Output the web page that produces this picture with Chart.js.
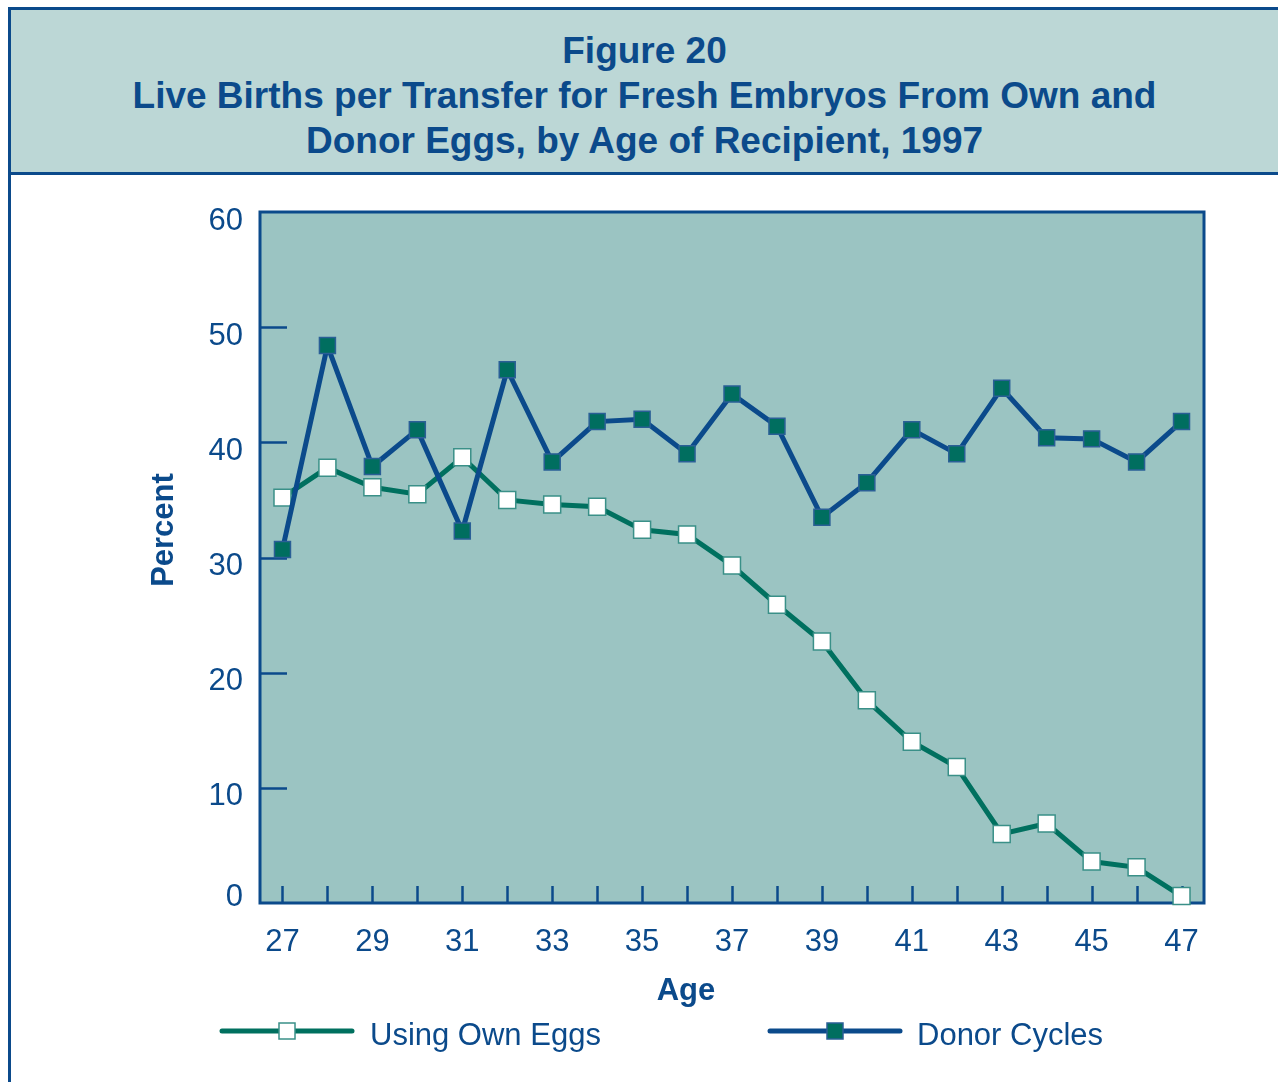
<!DOCTYPE html>
<html><head><meta charset="utf-8">
<script src="https://cdn.jsdelivr.net/npm/chart.js@4.4.1/dist/chart.umd.min.js"></script>
<style>
html,body{margin:0;padding:0;background:#fff;}
body{width:1278px;height:1082px;position:relative;overflow:hidden;font-family:"Liberation Sans",Arial,sans-serif;}
#hdr{position:absolute;left:8px;top:7px;width:1267px;height:144px;padding-top:18px;background:#bcd7d6;
 border-top:3px solid #0b4a8b;border-bottom:3px solid #0b4a8b;border-left:3px solid #0b4a8b;
 text-align:center;color:#0b4a8b;font-weight:bold;font-size:37px;line-height:45px;z-index:2;}
#vline{position:absolute;left:8px;top:7px;width:3px;height:1075px;background:#0b4a8b;z-index:3;}
#c{position:absolute;left:0;top:0;z-index:1;}
</style></head>
<body>
<div id="hdr">Figure 20<br>Live Births per Transfer for Fresh Embryos From Own and<br>Donor Eggs, by Age of Recipient, 1997</div>
<div id="vline"></div>
<canvas id="c" width="1278" height="1082"></canvas>
<script>
const ages = ['27','28','29','30','31','32','33','34','35','36','37','38','39','40','41','42','43','44','45','46','47'];
const ownEggs = [35.2,37.8,36.1,35.5,38.7,35.0,34.6,34.4,32.4,32.0,29.3,25.9,22.7,17.6,14.0,11.8,6.0,6.9,3.6,3.1,0.6];
const donorCycles = [30.7,48.4,37.9,41.1,32.3,46.3,38.3,41.8,42.0,39.0,44.2,41.4,33.5,36.5,41.1,39.0,44.7,40.4,40.3,38.3,41.8];
const yTickValues = [0,10,20,30,40,50,60];
const seriesNames = ['Using Own Eggs','Donor Cycles'];
const xTitle = 'Age';
const yTitle = 'Percent';

const BLUE = '#0b4a8b';
const GREEN = '#00705f';
const PLOT_BG = '#9bc4c2';
const FONT = "'Liberation Sans', Arial, sans-serif";

Chart.defaults.font.family = FONT;

function drawMarker(ctx, x, y, s, fill, stroke) {
  ctx.save();
  ctx.fillStyle = fill; ctx.strokeStyle = stroke; ctx.lineWidth = 1.5;
  ctx.fillRect(x - s/2, y - s/2, s, s);
  ctx.strokeRect(x - s/2, y - s/2, s, s);
  ctx.restore();
}

const decor = {
  id: 'decor',
  beforeDraw(chart) {
    const {ctx, chartArea: a} = chart;
    ctx.save();
    ctx.fillStyle = PLOT_BG;
    ctx.fillRect(a.left, a.top, a.right - a.left, a.bottom - a.top);
    ctx.restore();
  },
  beforeDatasetsDraw(chart) {
    const {ctx, chartArea: a, scales: {x, y}} = chart;
    ctx.save();
    ctx.strokeStyle = BLUE;
    ctx.lineWidth = 2.5;
    yTickValues.forEach(v => {
      if (v === 0 || v === 60) return;
      const py = Math.round(y.getPixelForValue(v)) + 0.5;
      ctx.beginPath(); ctx.moveTo(a.left, py); ctx.lineTo(a.left + 27, py); ctx.stroke();
    });
    ages.forEach((_, i) => {
      const px = Math.round(x.getPixelForValue(i)) + 0.5;
      ctx.beginPath(); ctx.moveTo(px, a.bottom - 17); ctx.lineTo(px, a.bottom); ctx.stroke();
    });
    ctx.lineWidth = 3;
    ctx.strokeRect(a.left, a.top, a.right - a.left, a.bottom - a.top);
    ctx.restore();
  },
  afterDraw(chart) {
    const {ctx, chartArea: a, scales: {y}} = chart;
    ctx.save();
    ctx.fillStyle = BLUE;
    // y tick labels
    ctx.font = '31px ' + FONT;
    ctx.textAlign = 'right';
    ctx.textBaseline = 'middle';
    yTickValues.forEach(v => {
      const py = y.getPixelForValue(v) + (v === 0 ? -6 : 9);
      ctx.fillText(String(v), a.left - 17, py);
    });
    // axis titles
    ctx.font = 'bold 31px ' + FONT;
    ctx.textAlign = 'center';
    ctx.fillText(xTitle, 686, 991);
    ctx.save();
    ctx.translate(164, 530);
    ctx.rotate(-Math.PI / 2);
    ctx.fillText(yTitle, 0, 0);
    ctx.restore();
    // legend
    const ly = 1031;
    const items = [
      {x0: 222, x1: 352, color: GREEN, fill: '#ffffff', stroke: '#3a9088', tx: 370, text: seriesNames[0]},
      {x0: 770, x1: 900, color: BLUE, fill: '#006e5f', stroke: '#2a5f96', tx: 917, text: seriesNames[1]}
    ];
    items.forEach(it => {
      ctx.strokeStyle = it.color; ctx.lineWidth = 5; ctx.lineCap = 'round';
      ctx.beginPath(); ctx.moveTo(it.x0, ly); ctx.lineTo(it.x1, ly); ctx.stroke();
      drawMarker(ctx, (it.x0 + it.x1) / 2, ly, 16, it.fill, it.stroke);
      ctx.fillStyle = BLUE;
      ctx.font = '31px ' + FONT;
      ctx.textAlign = 'left';
      ctx.textBaseline = 'middle';
      ctx.fillText(it.text, it.tx, ly + 5);
    });
    ctx.restore();
  }
};

new Chart(document.getElementById('c'), {
  type: 'line',
  data: {
    labels: ages,
    datasets: [
      {
        label: seriesNames[0], data: ownEggs, order: 2,
        borderColor: GREEN, borderWidth: 5, backgroundColor: '#ffffff',
        pointStyle: 'rect', pointRadius: 12, pointBorderWidth: 1.5,
        pointBorderColor: '#3a9088', pointBackgroundColor: '#ffffff',
        tension: 0, clip: false, fill: false
      },
      {
        label: seriesNames[1], data: donorCycles, order: 1,
        borderColor: BLUE, borderWidth: 5, backgroundColor: '#006e5f',
        pointStyle: 'rect', pointRadius: 11.3, pointBorderWidth: 1.5,
        pointBorderColor: '#2a5f96', pointBackgroundColor: '#006e5f',
        tension: 0, clip: false, fill: false
      }
    ]
  },
  options: {
    responsive: false,
    animation: false,
    events: [],
    layout: {padding: {left: 0, top: 212, right: 74, bottom: 69}},
    plugins: {legend: {display: false}, tooltip: {enabled: false}, title: {display: false}},
    scales: {
      x: {
        type: 'category', offset: true,
        grid: {display: false, drawTicks: false}, border: {display: false},
        ticks: {
          autoSkip: false, maxRotation: 0, minRotation: 0, padding: 21,
          color: BLUE, font: {size: 31},
          callback: (v, i) => (i % 2 === 0 ? ages[i] : '')
        },
        afterFit: s => { s.height = 110; }
      },
      y: {
        min: 0, max: 60,
        grid: {display: false, drawTicks: false}, border: {display: false},
        ticks: {display: false, stepSize: 10},
        afterFit: s => { s.width = 260; }
      }
    }
  },
  plugins: [decor]
});
</script>
</body></html>
